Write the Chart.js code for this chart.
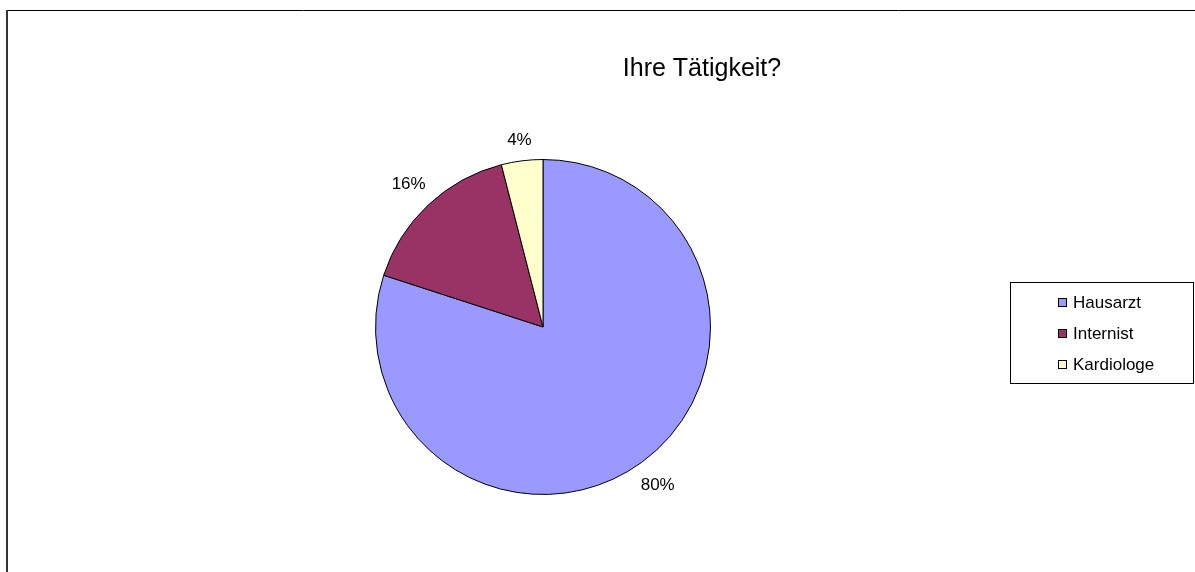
<!DOCTYPE html>
<html>
<head>
<meta charset="utf-8">
<title>Ihre Tätigkeit?</title>
<script src="https://cdn.jsdelivr.net/npm/chart.js@4/dist/chart.umd.min.js"></script>
<style>
  html, body { margin: 0; padding: 0; background: #fff; }
  canvas { display: block; }
</style>
</head>
<body>
<canvas id="chart" width="1195" height="572"></canvas>
<script>
// data
var chartTitle = "Ihre Tätigkeit?";
var categories = ["Hausarzt", "Internist", "Kardiologe"];
var shares = [80, 16, 4];
var sliceColors = ["#9999FF", "#993366", "#FFFFCC"];

var FONT = "'Liberation Sans', Arial, sans-serif";

// draws the frame, title, percent labels and legend box
var decorPlugin = {
  id: "decor",
  beforeDraw: function (chart) {
    var c = chart.ctx;
    c.save();
    c.fillStyle = "#fff";
    c.fillRect(0, 0, chart.width, chart.height);
    c.strokeStyle = "#000";
    c.lineWidth = 1;
    c.beginPath();
    c.moveTo(6, 10.5);
    c.lineTo(chart.width + 5, 10.5);
    c.stroke();
    c.strokeStyle = "#333";
    c.lineWidth = 2;
    c.beginPath();
    c.moveTo(7, 10);
    c.lineTo(7, chart.height + 5);
    c.stroke();
    c.restore();
  },
  afterDatasetsDraw: function (chart) {
    var c = chart.ctx;
    c.save();

    // title
    c.fillStyle = "#000";
    c.font = "25px " + FONT;
    c.textAlign = "center";
    c.textBaseline = "alphabetic";
    c.fillText(chartTitle, 702, 76);

    // percent labels just outside each slice
    var arcs = chart.getDatasetMeta(0).data;
    c.font = "17px " + FONT;
    c.textBaseline = "middle";
    arcs.forEach(function (arc, i) {
      var txt = shares[i] + "%";
      var mid = (arc.startAngle + arc.endAngle) / 2;
      var cos = Math.cos(mid), sin = Math.sin(mid);
      var w = c.measureText(txt).width;
      var r = arc.outerRadius + 12 + Math.abs(cos) * w / 2 + Math.abs(sin) * 7;
      c.fillText(txt, arc.x + cos * r, arc.y + sin * r);
    });

    // legend
    var lx = 1010, ly = 282, lw = 183, lh = 101;
    c.strokeStyle = "#000";
    c.lineWidth = 1;
    c.strokeRect(lx + 0.5, ly + 0.5, lw, lh);
    c.textAlign = "left";
    c.font = "17px " + FONT;
    categories.forEach(function (name, i) {
      var cy = 302 + i * 31;
      c.fillStyle = sliceColors[i];
      c.fillRect(1058, cy - 4, 9, 9);
      c.strokeStyle = "#000";
      c.strokeRect(1058.5, cy - 3.5, 8, 8);
      c.fillStyle = "#000";
      c.fillText(name, 1073, cy + 1);
    });
    c.restore();
  }
};

var ctx = document.getElementById("chart").getContext("2d");

var myChart = new Chart(ctx, {
  type: "pie",
  data: {
    labels: categories,
    datasets: [{
      data: shares,
      backgroundColor: sliceColors,
      borderColor: "#000",
      borderWidth: 1
    }]
  },
  options: {
    responsive: false,
    animation: false,
    layout: {
      padding: { left: 375, right: 484, top: 159, bottom: 77 }
    },
    plugins: {
      legend: { display: false },
      title: { display: false },
      tooltip: { enabled: false }
    }
  },
  plugins: [decorPlugin]
});
</script>
</body>
</html>
